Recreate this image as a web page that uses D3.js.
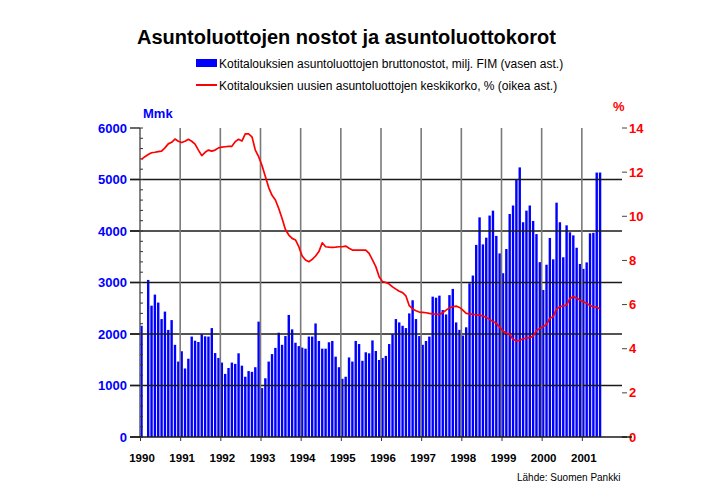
<!DOCTYPE html>
<html><head><meta charset="utf-8">
<script src="https://cdn.jsdelivr.net/npm/d3@7/dist/d3.min.js"></script>
<style>body{margin:0;background:#fff}svg{display:block}text{font-family:"Liberation Sans",Arial,sans-serif}</style>
</head><body><svg id="c" width="709" height="492"></svg>
<script>
// ---- data ----
const title = "Asuntoluottojen nostot ja asuntoluottokorot";
const barLabel = "Kotitalouksien asuntoluottojen bruttonostot, milj. FIM (vasen ast.)";
const lineLabel = "Kotitalouksien uusien asuntoluottojen keskikorko, % (oikea ast.)";
const source = "Lähde: Suomen Pankki";
const years = [1990,1991,1992,1993,1994,1995,1996,1997,1998,1999,2000,2001];
const leftTicks = [0,1000,2000,3000,4000,5000,6000];
const rightTicks = [0,2,4,6,8,10,12,14];
// monthly gross drawdowns, Mmk, Jan 1990 - Jun 2001 (Feb 1990 missing)
const loans = [
 2160,null,3050,2550,2765,2610,2290,2435,2080,2270,1790,1465,
 1665,1330,1520,1950,1870,1845,1995,1955,1950,2115,1630,1535,
 1445,1225,1340,1445,1420,1625,1385,1170,1280,1265,1355,2240,
 950,1140,1465,1610,1730,2025,1790,1960,2370,2090,1830,1765,
 1735,1715,1950,1950,2205,1865,1715,1715,1840,1865,1560,1355,
 1130,1170,1545,1465,1865,1805,1480,1645,1625,1875,1670,1495,
 1535,1575,1805,1995,2290,2225,2160,2115,2400,2655,2290,1960,
 1790,1865,1950,2725,2705,2745,2465,2380,2755,2875,2225,2080,
 1970,2130,2985,3135,3730,4265,3740,3870,4300,4395,3905,3565,
 3180,3650,4330,4495,4990,5235,4170,4395,4495,4195,3940,3395,
 2855,3345,3865,3450,4550,4170,3490,4110,3975,3915,3675,3360,
 3265,3390,3955,3965,5135,5135
];
// average rate on new housing loans, %
const rates = [
 12.58,12.7,12.8,12.88,12.9,12.93,12.95,13.1,13.28,13.35,13.5,13.4,
 13.34,13.4,13.49,13.4,13.27,13.0,12.75,12.9,13.0,12.95,13.0,13.1,
 13.13,13.15,13.17,13.17,13.38,13.49,13.41,13.73,13.73,13.6,13.0,12.7,
 12.3,11.8,11.3,10.95,10.74,10.35,9.9,9.4,9.15,9.0,8.93,8.62,
 8.2,8.02,7.94,8.05,8.2,8.4,8.8,8.62,8.6,8.59,8.6,8.62,
 8.62,8.65,8.55,8.47,8.47,8.47,8.47,8.47,8.32,8.02,7.72,7.26,
 7.04,7.0,6.93,6.8,6.7,6.6,6.54,6.39,5.95,5.8,5.72,5.66,
 5.65,5.63,5.6,5.58,5.57,5.55,5.63,5.75,5.85,5.9,5.93,5.87,
 5.75,5.6,5.58,5.56,5.54,5.52,5.48,5.42,5.33,5.23,5.15,4.98,
 4.8,4.7,4.66,4.42,4.36,4.38,4.45,4.48,4.5,4.57,4.82,4.92,
 5.0,5.1,5.38,5.45,5.8,5.9,5.94,5.98,6.28,6.36,6.3,6.2,
 6.13,6.06,5.95,5.9,5.88,5.8
];

// ---- chart ----
const svg = d3.select("#c");
svg.append("rect").attr("width",709).attr("height",492).attr("fill","#fff");
const x = d3.scaleLinear().domain([0, years.length*12]).range([140, 622]);
const yL = d3.scaleLinear().domain([0, 6000]).range([437, 128]);
const yR = d3.scaleLinear().domain([0, 14]).range([437, 128]);

// title
svg.append("text").attr("x",137).attr("y",44).attr("font-size",20).attr("font-weight","bold").text(title);

// legend
svg.append("rect").attr("x",196).attr("y",59).attr("width",21).attr("height",8).attr("fill","#0000ff");
svg.append("text").attr("x",219).attr("y",67.5).attr("font-size",12).text(barLabel);
svg.append("line").attr("x1",196).attr("x2",217).attr("y1",85).attr("y2",85).attr("stroke","#ff0000").attr("stroke-width",2);
svg.append("text").attr("x",219).attr("y",89.5).attr("font-size",12).text(lineLabel);

// bars
svg.append("g").selectAll("rect").data(loans.map((v,i)=>({v,i})).filter(d=>d.v!==null)).join("rect")
  .attr("x", d=>x(d.i)+0.3).attr("width",2.4)
  .attr("y", d=>yL(d.v)).attr("height", d=>yL(0)-yL(d.v))
  .attr("fill","#0000ff");

// horizontal gridlines (on top of bars)
svg.append("g").selectAll("line").data(leftTicks.filter(t=>t>0 && t<6000)).join("line")
  .attr("x1",130).attr("x2",622).attr("y1",d=>yL(d)).attr("y2",d=>yL(d))
  .attr("stroke","#1a1a1a").attr("stroke-width",1.3);
// vertical gridlines
svg.append("g").selectAll("line").data(years.slice(1)).join("line")
  .attr("x1",(d,i)=>x((i+1)*12)).attr("x2",(d,i)=>x((i+1)*12))
  .attr("y1",128).attr("y2",437)
  .attr("stroke","#7a7a7a").attr("stroke-width",1.6);

// left axis
const gl = svg.append("g").attr("transform","translate(140,0)");
gl.append("line").attr("x1",0).attr("x2",0).attr("y1",128).attr("y2",437).attr("stroke","#666").attr("stroke-width",1.6);
gl.selectAll("line.mn").data(d3.range(0,6001,200)).join("line").attr("class","mn")
  .attr("x1",0).attr("x2",3).attr("y1",d=>yL(d)).attr("y2",d=>yL(d)).attr("stroke","#333");
gl.selectAll("line.mj").data(leftTicks).join("line").attr("class","mj")
  .attr("x1",-10).attr("x2",0).attr("y1",d=>yL(d)).attr("y2",d=>yL(d)).attr("stroke","#1a1a1a").attr("stroke-width",1.3);
gl.selectAll("text").data(leftTicks).join("text")
  .attr("x",-13).attr("y",d=>yL(d)+4.5).attr("text-anchor","end")
  .attr("font-size",13).attr("font-weight","bold").attr("fill","#0000ff").text(d=>d);
svg.append("text").attr("x",143).attr("y",118).attr("font-size",13).attr("font-weight","bold").attr("fill","#0000ff").text("Mmk");

// right axis
const gr = svg.append("g").attr("transform","translate(622,0)");
gr.append("line").attr("x1",0).attr("x2",0).attr("y1",128).attr("y2",437).attr("stroke","#666").attr("stroke-width",1.6);
gr.selectAll("line").data(rightTicks).join("line").filter(function(){return true;})
  .attr("x1",0).attr("x2",5).attr("y1",d=>yR(d)).attr("y2",d=>yR(d)).attr("stroke","#444");
gr.selectAll("text").data(rightTicks).join("text")
  .attr("x",7).attr("y",d=>yR(d)+4.5)
  .attr("font-size",13).attr("font-weight","bold").attr("fill","#ff0000").text(d=>d);
svg.append("text").attr("x",613).attr("y",111).attr("font-size",13).attr("font-weight","bold").attr("fill","#ff0000").text("%");

// bottom axis
svg.append("line").attr("x1",130).attr("x2",632).attr("y1",437).attr("y2",437).attr("stroke","#1a1a1a").attr("stroke-width",1.3);
const gb = svg.append("g").attr("transform","translate(0,437)")
  .call(d3.axisBottom(x).tickValues(years.map((y,i)=>i*12)).tickFormat((d,i)=>years[i]).tickSize(4).tickPadding(13));
gb.select(".domain").remove();
gb.selectAll(".tick line").attr("stroke","#333");
gb.selectAll(".tick text").attr("font-size",11.5).attr("font-weight","bold")
  .attr("font-family","'Liberation Sans',Arial,sans-serif").attr("fill","#000").attr("dx",1.5);

// rate line
svg.append("path").datum(rates)
  .attr("d", d3.line().x((d,i)=>x(i)+1.5).y(d=>yR(d)))
  .attr("fill","none").attr("stroke","#ff0000").attr("stroke-width",1.7).attr("stroke-linejoin","round");

// source
svg.append("text").attr("x",517).attr("y",481).attr("font-size",10).text(source);
</script></body></html>
